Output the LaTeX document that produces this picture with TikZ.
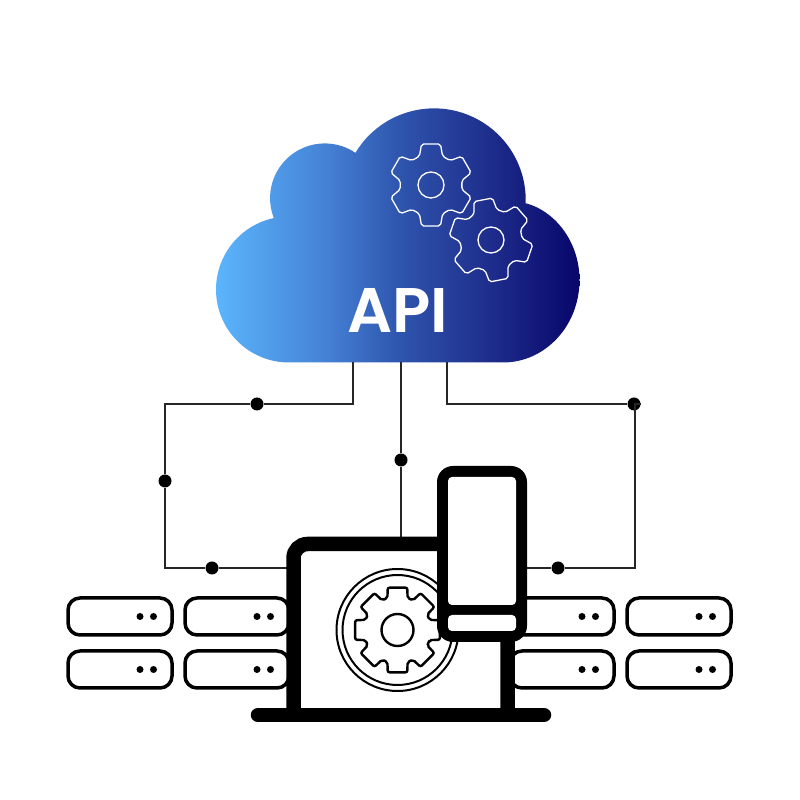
\documentclass[tikz,border=0pt]{standalone}
\usepackage{fontspec}
\newfontfamily\apifont{Poppins SemiBold}
\usetikzlibrary{positioning}
\definecolor{cloudA}{HTML}{5BB5FC}
\definecolor{cloudB}{HTML}{4582D6}
\definecolor{cloudC}{HTML}{2F56AE}
\definecolor{cloudD}{HTML}{1F2F8E}
\definecolor{cloudE}{HTML}{08066A}
\pgfdeclarehorizontalshading{cloudfade}{100bp}{
    color(0bp)=(cloudA); color(25bp)=(cloudA); color(40bp)=(cloudB);
    color(50bp)=(cloudC); color(62bp)=(cloudD); color(75bp)=(cloudE); color(100bp)=(cloudE)
}
% gear outline: style, centre, rotation, tooth angles, start angle, outer r, base r, half tip, half base
\newcommand{\gearoutline}[9]{
    \draw[#1, shift={#2}, rotate=#3, rounded corners=2pt] (#5:#7)
        \foreach \a in {#4} {
            -- ({\a-#9}:#7) -- ({\a-#8}:#6) -- ({\a+#8}:#6) -- ({\a+#9}:#7)
        } -- cycle;
}
\begin{document}
\begin{tikzpicture}[
        x=1pt, y=1pt,
        wire/.style={line width=1.2pt, black!85},
        junction/.style={circle, fill=black, minimum size=13pt, inner sep=0pt},
        led/.style={circle, fill=black, minimum size=7pt, inner sep=0pt},
        serverbox/.style={
            rectangle, rounded corners=12pt, draw=black, fill=white, line width=3.5pt,
            minimum width=104pt, minimum height=37pt, inner sep=0pt, outer sep=0pt,
            append after command={
                \pgfextra{\let\TikZlastnode\tikzlastnode}
                node[led] (ledA-\TikZlastnode) at ([xshift=-32pt]\TikZlastnode.east) {}
                node[led] (ledB-\TikZlastnode) at ([xshift=-18.5pt]\TikZlastnode.east) {}
            }
        },
        laptopline/.style={line width=14.5pt, draw=black},
        phonebody/.style={
            rectangle, rounded corners=16pt, fill=black,
            minimum width=90pt, minimum height=176pt, inner sep=0pt
        },
        phonepane/.style={
            rectangle, rounded corners=4pt, fill=white,
            minimum width=68pt, inner sep=0pt
        }
    ]
        \useasboundingbox (0,0) rectangle (800,800);

        % cloud
        \shade[shading=cloudfade] (289,437.5)
            arc[start angle=270, end angle=102, radius=73]
            arc[start angle=201.4, end angle=55.9, radius=54.7]
            arc[start angle=149, end angle=-2, radius=91.7]
            .. controls (553,590) and (579.5,560) .. (579.5,520)
            .. controls (579.5,474) and (545,437.5) .. (503,437.5) -- cycle;
        \gearoutline{white, line width=1.3pt}{(431,615)}{0}{30,90,150,210,270,330}{0}{42}{31}{13}{22}
        \draw[white, line width=1.3pt] (431,615) circle[radius=13];
        \gearoutline{white, line width=1.3pt}{(491,560)}{11}{30,90,150,210,270,330}{0}{42}{31}{13}{22}
        \draw[white, line width=1.3pt] (491,560) circle[radius=13];
        \node[text=white, font=\apifont\fontsize{63}{63}\selectfont, inner sep=0pt] (apilabel) at (397.5,490) {API};

        \coordinate (cloudL) at (353,438);
        \coordinate (cloudM) at (401,438);
        \coordinate (cloudR) at (447,438);
        \coordinate (laptopL) at (294,232);
        \coordinate (laptopT) at (401,256);
        \coordinate (phoneR) at (520,232);

        % servers
        \node[serverbox] (srv11) at (120,183.5) {};
        \node[serverbox] (srv12) [right = 13pt of srv11] {};
        \node[serverbox] (srv21) [below = 16pt of srv11] {};
        \node[serverbox] (srv22) [below = 16pt of srv12] {};
        \node[serverbox] (srv13) at (562,183.5) {};
        \node[serverbox] (srv14) [right = 13pt of srv13] {};
        \node[serverbox] (srv23) [below = 16pt of srv13] {};
        \node[serverbox] (srv24) [below = 16pt of srv14] {};

        % connectors
        \node[junction] (dotA) at (257,396) {};
        \node[junction] (dotB) at (165,319) {};
        \node[junction] (dotC) at (212,232) {};
        \node[junction] (dotD) at (401,340) {};
        \node[junction] (dotE) at (634,396) {};
        \node[junction] (dotF) at (558,232) {};
        \draw[wire] (cloudL) |- (dotA) -- (165,396) -- (dotB) |- (dotC) -- (laptopL);
        \draw[wire] (cloudM) -- (dotD) -- (laptopT);
        \draw[wire] (cloudR) |- (dotE) -- (635,396) -- (635,232) -- (dotF) -- (phoneR);

        % laptop
        \draw[laptopline, fill=white, rounded corners=14pt] (293.5,85) -- (293.5,256) -- (507.5,256) -- (507.5,85);
        \draw[laptopline, line cap=round] (258,85) -- (544,85);
        \draw[black, line width=2pt] (397.5,170) circle[radius=61];
        \draw[black, line width=2pt] (397.5,170) circle[radius=55];
        \draw[black, line width=2.4pt] (397.5,170) circle[radius=16];
        \gearoutline{black, line width=2.4pt}{(397.5,170)}{0}{0,45,90,135,180,225,270,315}{-22.5}{43.5}{33.5}{13}{17.5}

        % phone
        \node[phonebody] (phone) at (482,246) {};
        \node[phonepane, minimum height=128pt] (phonescreen) at (482,259) {};
        \node[phonepane, minimum height=16pt] (phonebar) at (482,177) {};
\end{tikzpicture}
\end{document}
